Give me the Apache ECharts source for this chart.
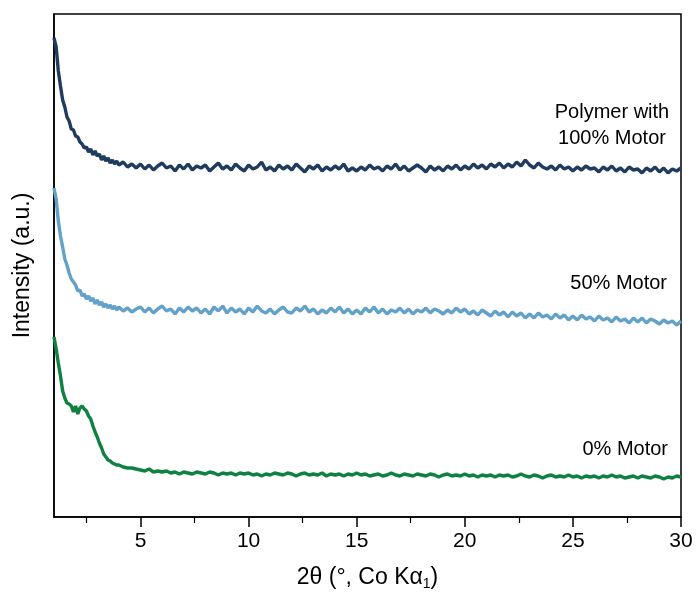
<!DOCTYPE html>
<html>
<head>
<meta charset="utf-8">
<script src="https://cdn.jsdelivr.net/npm/echarts@6/dist/echarts.min.js"></script>
<style>html,body{margin:0;padding:0;background:#fff;}#c{width:696px;height:600px;}</style>
</head>
<body>
<div id="c"></div>
<script>
// 2-theta positions (degrees)
const twoTheta = [
  1.0,1.1,1.2,1.3,1.4,1.5,1.6,1.7,1.8,1.9,
  2.0,2.1,2.2,2.3,2.4,2.5,2.6,2.7,2.8,2.9,
  3.0,3.1,3.2,3.3,3.4,3.5,3.6,3.7,3.8,3.9,
  4.0,4.2,4.4,4.6,4.8,
  5.0,5.2,5.4,5.6,5.8, 6.0,6.2,6.4,6.6,6.8, 7.0,7.2,7.4,7.6,7.8, 8.0,8.2,8.4,8.6,8.8, 9.0,9.2,9.4,9.6,9.8,
  10.0,10.2,10.4,10.6,10.8, 11.0,11.2,11.4,11.6,11.8, 12.0,12.2,12.4,12.6,12.8, 13.0,13.2,13.4,13.6,13.8, 14.0,14.2,14.4,14.6,14.8,
  15.0,15.2,15.4,15.6,15.8, 16.0,16.2,16.4,16.6,16.8, 17.0,17.2,17.4,17.6,17.8, 18.0,18.2,18.4,18.6,18.8, 19.0,19.2,19.4,19.6,19.8,
  20.0,20.2,20.4,20.6,20.8, 21.0,21.2,21.4,21.6,21.8, 22.0,22.2,22.4,22.6,22.8, 23.0,23.2,23.4,23.6,23.8, 24.0,24.2,24.4,24.6,24.8,
  25.0,25.2,25.4,25.6,25.8, 26.0,26.2,26.4,26.6,26.8, 27.0,27.2,27.4,27.6,27.8, 28.0,28.2,28.4,28.6,28.8, 29.0,29.2,29.4,29.6,29.8,
  30.0
];
// Intensity (a.u., offset traces)
const motor100 = [
  479,470,446,431,417,410,400,396,388,387,
  381,380,375,373,369,370,365,368,362,366,
  361,363,357,361,356,359,354,357,353,356,
  352,355,350,353,349,
  353,348,352,347,351, 354,349,351,346,352, 348,353,347,351,349, 352,346,350,354,348, 351,347,353,349,346,
  352,348,350,355,347, 350,346,352,348,351, 347,353,349,345,351, 348,352,346,350,347, 351,348,353,346,349,
  346,350,347,352,348, 350,346,351,348,353, 347,351,346,349,352, 349,345,351,347,350, 346,351,348,352,347,
  351,348,353,349,352, 348,353,350,354,349, 353,350,355,351,357, 352,349,354,350,348, 351,347,352,348,350,
  346,350,347,351,348, 349,345,350,347,351, 346,349,345,350,347, 348,344,349,346,350, 345,349,344,348,346,
  349
];
const motor50 = [
  329,318,296,281,270,258,252,244,238,235,
  232,226,227,221,223,218,221,216,219,213,
  217,212,215,210,213,209,212,208,211,207,
  210,206,209,205,208,
  210,205,209,204,208, 211,206,208,203,209, 205,210,206,209,204, 208,203,210,206,211, 204,209,205,208,203,
  209,205,211,206,204, 208,203,207,210,205, 204,209,206,211,205, 208,203,207,204,209, 205,210,204,208,203,
  207,203,209,205,210, 204,208,203,207,205, 209,204,208,203,207, 205,209,204,208,206, 203,207,204,209,205,
  208,203,206,202,207, 204,201,206,202,205, 200,205,201,204,199, 203,199,204,200,202, 198,203,199,202,197,
  201,197,202,198,200, 196,201,197,199,195, 200,196,198,194,199, 195,199,194,198,196, 193,197,194,196,192,
  196
];
const motor0 = [
  180,168,154,141,126,119,114,113,111,105,
  111,103,109,111,108,106,101,98,91,85,
  80,74,69,63,60,57,56,54,53,52,
  52,50,49,49,48,
  47,46,48,45,46, 45,46,44,45,43, 45,44,43,45,44, 43,45,44,42,44, 43,44,42,44,43,
  44,42,43,41,43, 42,44,43,42,44, 43,41,43,44,42, 43,42,44,41,43, 42,43,41,43,42,
  44,42,43,41,42, 43,41,42,44,42, 41,43,42,41,43, 42,41,43,42,40, 42,43,41,42,41,
  43,41,42,40,42, 41,42,40,42,41, 42,40,41,43,41, 40,42,41,39,41, 42,40,41,40,42,
  40,41,39,41,40, 41,39,41,40,42, 40,41,39,40,41, 39,41,40,39,41, 40,38,40,39,41,
  40
];
const majorTicks = [5, 10, 15, 20, 25, 30];
const minorTicks = [2.5, 7.5, 12.5, 17.5, 22.5, 27.5];
const seriesNames = ['Polymer with 100% Motor', '50% Motor', '0% Motor'];
const colors = ['#1f3b5e', '#62a1c9', '#0f8141'];

const pair = ys => twoTheta.map((x, i) => [x, ys[i]]);
const FONT = 'Liberation Sans, Arial, sans-serif';

const chart = echarts.init(document.getElementById('c'), null, {renderer: 'canvas'});
chart.setOption({
  animation: false,
  backgroundColor: '#fff',
  grid: {left: 54, right: 15, top: 14, bottom: 83, show: true, borderColor: '#000', borderWidth: 1.5, backgroundColor: 'transparent'},
  xAxis: [{
    type: 'value', min: 1, max: 30,
    name: '2θ (°, Co Kα{sub|1})', nameLocation: 'middle', nameGap: 48,
    nameTextStyle: {fontFamily: FONT, fontSize: 23, color: '#000', rich: {sub: {fontFamily: FONT, fontSize: 14, verticalAlign: 'bottom', padding: [12, 0, 0, 0]}}},
    axisLine: {lineStyle: {color: '#000', width: 1.5}},
    axisTick: {show: true, customValues: majorTicks, length: 10, lineStyle: {color: '#000', width: 1.5}},
    axisLabel: {customValues: majorTicks, fontFamily: FONT, fontSize: 21, color: '#000', margin: 14},
    splitLine: {show: false}
  }, {
    type: 'value', min: 1, max: 30, position: 'bottom',
    axisLine: {show: false},
    axisTick: {show: true, customValues: minorTicks, length: 6, lineStyle: {color: '#000', width: 1.2}},
    axisLabel: {show: false},
    splitLine: {show: false}
  }],
  yAxis: {
    type: 'value', min: 0, max: 503,
    name: 'Intensity (a.u.)', nameLocation: 'middle', nameGap: 20,
    nameTextStyle: {fontFamily: FONT, fontSize: 23, color: '#000'},
    axisLine: {show: true, lineStyle: {color: '#000', width: 1.5}},
    axisTick: {show: false}, axisLabel: {show: false}, splitLine: {show: false}
  },
  series: [motor100, motor50, motor0].map((ys, i) => ({
    name: seriesNames[i], type: 'line', data: pair(ys), showSymbol: false,
    lineStyle: {color: colors[i], width: 3.4}, z: 3 - i
  })),
  graphic: [
    {type: 'text', style: {text: 'Polymer with\n100% Motor', x: 612, y: 125, textAlign: 'center', textVerticalAlign: 'middle', font: '20px ' + FONT, lineHeight: 26, fill: '#000'}},
    {type: 'text', style: {text: '50% Motor', x: 667, y: 283, textAlign: 'right', textVerticalAlign: 'middle', font: '20px ' + FONT, fill: '#000'}},
    {type: 'text', style: {text: '0% Motor', x: 668, y: 449, textAlign: 'right', textVerticalAlign: 'middle', font: '20px ' + FONT, fill: '#000'}}
  ]
});
</script>
</body>
</html>
